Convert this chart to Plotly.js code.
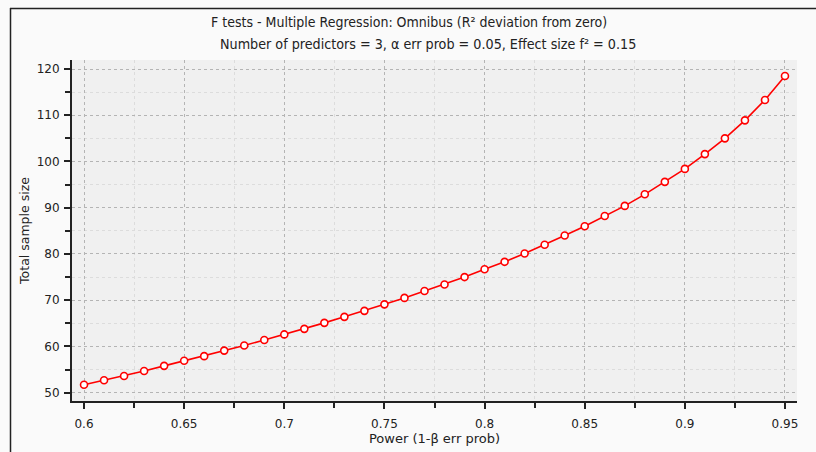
<!DOCTYPE html>
<html>
<head>
<meta charset="utf-8">
<script src="https://cdn.plot.ly/plotly-3.0.1.min.js"></script>
<style>
html,body{margin:0;padding:0;background:#fafafa;}
#chart{width:816px;height:452px;}
</style>
</head>
<body>
<div id="chart"></div>
<script>
const power = [0.60,0.61,0.62,0.63,0.64,0.65,0.66,0.67,0.68,0.69,0.70,0.71,0.72,0.73,0.74,0.75,0.76,0.77,0.78,0.79,0.80,0.81,0.82,0.83,0.84,0.85,0.86,0.87,0.88,0.89,0.90,0.91,0.92,0.93,0.94,0.95];
const sampleSize = [51.7,52.7,53.6,54.7,55.8,56.9,57.9,59.1,60.2,61.4,62.6,63.8,65.1,66.4,67.7,69.1,70.5,72.0,73.4,75.0,76.7,78.3,80.1,82.0,84.0,86.0,88.2,90.4,92.9,95.6,98.4,101.6,105.0,108.9,113.3,118.5];
const xTickVals = [0.6,0.65,0.7,0.75,0.8,0.85,0.9,0.95];
const xTickText = ["0.6","0.65","0.7","0.75","0.8","0.85","0.9","0.95"];
const yTickVals = [50,60,70,80,90,100,110,120];
const titleText = "F tests - Multiple Regression: Omnibus (R² deviation from zero)";
const subtitleText = "Number of predictors = 3, α err prob = 0.05, Effect size f² = 0.15";
const xTitle = "Power (1-β err prob)";
const yTitle = "Total sample size";

const W = 816, H = 452;
const m = {l:72, r:19, t:60, b:51};
const pw = W - m.l - m.r, ph = H - m.t - m.b;
const px = v => (v - m.l) / pw;
const py = v => 1 - (v - m.t) / ph;

const trace = {
  x: power, y: sampleSize, type: 'scatter', mode: 'lines+markers',
  line: {color: '#ff0000', width: 1.6},
  marker: {symbol: 'circle', size: 7, color: '#ffffff', line: {color: '#ff0000', width: 1.6}},
  cliponaxis: false, hoverinfo: 'x+y'
};

const fontFam = 'DejaVu Sans, sans-serif';
const condFam = 'DejaVu Sans Condensed, DejaVu Sans, sans-serif';
const layout = {
  width: W, height: H,
  margin: m,
  paper_bgcolor: '#fafafa',
  plot_bgcolor: '#f0f0f0',
  showlegend: false,
  font: {family: fontFam, size: 12, color: '#222'},
  xaxis: {
    range: [0.594, 0.956], tickvals: xTickVals, ticktext: xTickText,
    ticks: 'outside', ticklen: 6, tickwidth: 2, tickcolor: '#222',
    ticklabelstandoff: 5,
    showline: true, linecolor: '#222', linewidth: 2, zeroline: false,
    showgrid: true, gridcolor: '#b4b4b4', griddash: 'dot', gridwidth: 1,
    tickfont: {family: fontFam, size: 12, color: '#222'},
    minor: {dtick: 0.025, tick0: 0.6, ticks: 'outside', ticklen: 5, tickwidth: 2, tickcolor: '#222', showgrid: true, gridcolor: '#dcdcdc', griddash: 'dot', gridwidth: 1},
    title: {text: xTitle, font: {family: fontFam, size: 13, color: '#222'}, standoff: 2}
  },
  yaxis: {
    range: [48.2, 121.95], tickvals: yTickVals,
    ticks: 'outside', ticklen: 6, tickwidth: 2, tickcolor: '#222',
    ticklabelstandoff: 2,
    showline: true, linecolor: '#222', linewidth: 2, zeroline: false,
    showgrid: true, gridcolor: '#b4b4b4', griddash: 'dot', gridwidth: 1,
    tickfont: {family: fontFam, size: 12, color: '#222'},
    minor: {dtick: 5, tick0: 50, ticks: 'outside', ticklen: 5, tickwidth: 2, tickcolor: '#222', showgrid: true, gridcolor: '#dcdcdc', griddash: 'dot', gridwidth: 1},
    title: {text: yTitle, font: {family: fontFam, size: 12.5, color: '#222'}, standoff: 4}
  },
  annotations: [
    {text: titleText, xref: 'paper', yref: 'paper', x: px(409), y: py(22), xanchor: 'center', yanchor: 'middle', showarrow: false,
     font: {family: condFam, size: 14, color: '#222'}},
    {text: subtitleText, xref: 'paper', yref: 'paper', x: px(428), y: py(44), xanchor: 'center', yanchor: 'middle', showarrow: false,
     font: {family: condFam, size: 14.2, color: '#222'}}
  ],
  shapes: [
    {type: 'line', xref: 'paper', yref: 'paper', x0: px(10), x1: px(830), y0: py(8.5), y1: py(8.5), line: {color: '#222', width: 1.5}},
    {type: 'line', xref: 'paper', yref: 'paper', x0: px(10.5), x1: px(10.5), y0: py(8), y1: py(470), line: {color: '#222', width: 1.5}}
  ]
};

Plotly.newPlot('chart', [trace], layout, {displayModeBar: false, staticPlot: true});
</script>
</body>
</html>
